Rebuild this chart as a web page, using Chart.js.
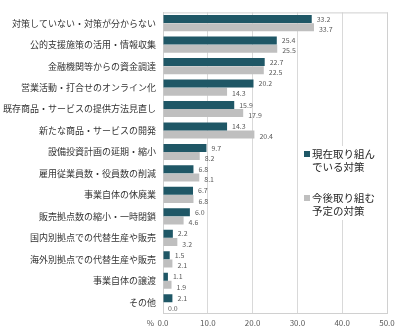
<!DOCTYPE html>
<html>
<head>
<meta charset="utf-8">
<script src="https://cdn.jsdelivr.net/npm/chart.js@4"></script>
<style>
  html, body { margin: 0; padding: 0; background: #fff; }
  #wrap { width: 400px; height: 331px; position: relative; }
</style>
</head>
<body>
<div id="wrap"><canvas id="barChart"></canvas></div>
<script>
const categories = [
  '対策していない・対策が分からない',
  '公的支援施策の活用・情報収集',
  '金融機関等からの資金調達',
  '営業活動・打合せのオンライン化',
  '既存商品・サービスの提供方法見直し',
  '新たな商品・サービスの開発',
  '設備投資計画の延期・縮小',
  '雇用従業員数・役員数の削減',
  '事業自体の休廃業',
  '販売拠点数の縮小・一時閉鎖',
  '国内別拠点での代替生産や販売',
  '海外別拠点での代替生産や販売',
  '事業自体の譲渡',
  'その他'
];
const current = [33.2, 25.4, 22.7, 20.2, 15.9, 14.3, 9.7, 6.8, 6.7, 6.0, 2.2, 1.5, 1.1, 2.1];
const planned = [33.7, 25.5, 22.5, 14.3, 17.9, 20.4, 8.2, 8.1, 6.8, 4.6, 3.2, 2.1, 1.9, 0.0];
const seriesNames = [['現在取り組ん', 'でいる対策'], ['今後取り組む', '予定の対策']];
const xTicks = [0, 10, 20, 30, 40, 50];

const FONT = '"Noto Sans CJK JP", "Noto Sans", sans-serif';
const colors = ['#1f5766', '#bfbfbf'];

// value labels, frame, "%" and the legend box inside the plot
const extras = {
  id: 'extras',
  beforeDatasetsDraw(chart) {
    const { ctx, chartArea: a } = chart;
    ctx.save();
    ctx.strokeStyle = '#d0d0d0';
    ctx.lineWidth = 1;
    ctx.strokeRect(a.left + 0.5, a.top + 0.5, a.right - a.left, a.bottom - a.top);
    ctx.restore();
  },
  afterDatasetsDraw(chart) {
    const { ctx, chartArea: a } = chart;
    ctx.save();
    ctx.font = '7px ' + FONT;
    ctx.fillStyle = '#595959';
    ctx.textBaseline = 'middle';
    ctx.textAlign = 'left';
    chart.data.datasets.forEach((ds, i) => {
      chart.getDatasetMeta(i).data.forEach((bar, j) => {
        const dy = i === 0 ? 0 : 2;
        ctx.fillText(ds.data[j].toFixed(1), bar.x + 5, bar.y + dy);
      });
    });

    // percent sign next to x ticks
    ctx.font = '8px ' + FONT;
    ctx.textAlign = 'right';
    ctx.fillText('%', a.left - 9, a.bottom + 10);

    // legend
    const lx = 302, ly = 146;
    ctx.fillStyle = '#fff';
    ctx.fillRect(lx, ly, a.right - lx - 1, 74);
    ctx.font = '10.5px ' + FONT;
    ctx.textAlign = 'left';
    seriesNames.forEach((lines, i) => {
      const y0 = ly + 8 + i * 44;
      ctx.fillStyle = colors[i];
      ctx.fillRect(lx + 2, y0 - 3, 6, 6);
      ctx.fillStyle = '#262626';
      lines.forEach((t, k) => ctx.fillText(t, lx + 10, y0 + k * 13));
    });
    ctx.restore();
  }
};

new Chart(document.getElementById('barChart'), {
  type: 'bar',
  data: {
    labels: categories,
    datasets: [
      { label: seriesNames[0].join(''), data: current, backgroundColor: colors[0] },
      { label: seriesNames[1].join(''), data: planned, backgroundColor: colors[1] }
    ]
  },
  options: {
    indexAxis: 'y',
    responsive: true,
    maintainAspectRatio: false,
    animation: false,
    layout: { padding: { top: 8, right: 13, bottom: 0, left: 0 } },
    datasets: { bar: { categoryPercentage: 0.76, barPercentage: 0.98 } },
    plugins: { legend: { display: false }, tooltip: { enabled: false } },
    scales: {
      x: {
        min: 0, max: 50,
        afterBuildTicks(scale) { scale.ticks = xTicks.map(v => ({ value: v })); },
        afterFit(scale) { scale.height = 18; },
        grid: { color: '#d9d9d9', drawTicks: false },
        border: { color: '#d0d0d0' },
        ticks: {
          padding: 5,
          color: '#595959',
          font: { size: 8, family: FONT },
          callback: v => v.toFixed(1)
        }
      },
      y: {
        afterFit(scale) { scale.width = 163; },
        grid: { display: false, drawTicks: false },
        border: { color: '#d0d0d0' },
        ticks: {
          padding: 7,
          color: '#333',
          font: { size: 9, family: FONT }
        }
      }
    }
  },
  plugins: [extras]
});
</script>
</body>
</html>
